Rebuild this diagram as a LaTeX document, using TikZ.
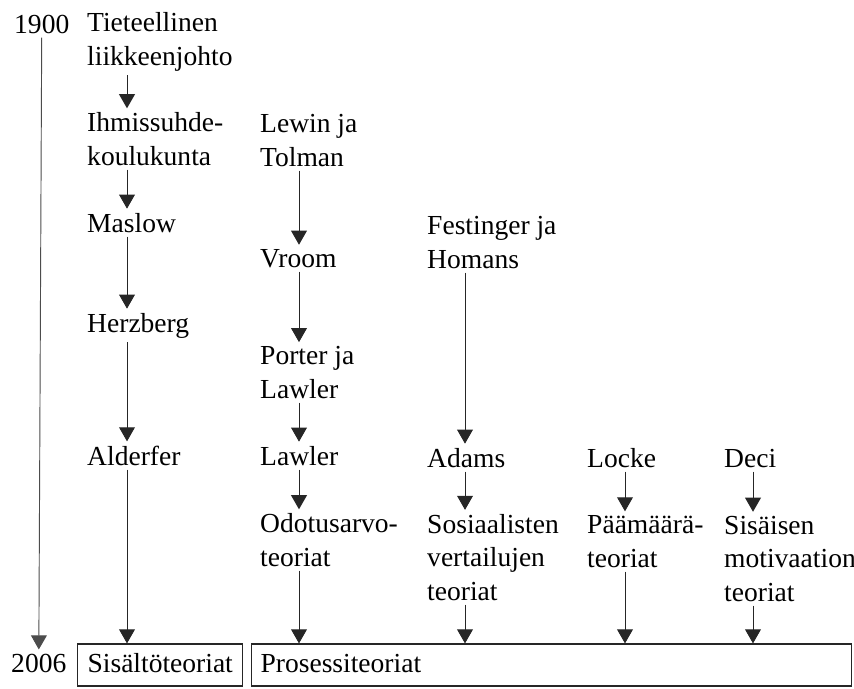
\documentclass[tikz,border=0pt]{standalone}
\usepackage{fontspec}
\setmainfont{Liberation Serif}
\usepackage{tikz}
\usetikzlibrary{arrows.meta}

\tikzset{
  txt/.style={anchor=base west, align=left, inner xsep=0pt, inner ysep=0.12cm,
    font=\fontsize{23.5}{28.5}\selectfont, text=black},
  boxed/.style={txt, draw=black!85, line width=1pt, inner xsep=0.3cm,
    inner ysep=0.24cm, text height=0.6cm, text depth=0.18cm},
  arr/.style={-{Triangle[width=13.5pt,length=12pt]}, line width=0.8pt, black!85},
}

\begin{document}
\begin{tikzpicture}[x=0.03cm,y=-0.03cm]
   \useasboundingbox (0,0) rectangle (854,689);

   % years (base = last line)
   \draw (14,33) node[txt] (y1900) {1900};
   \draw (11,672) node[txt] (y2006) {2006};

   % sisaltoteoriat
   \draw (87,65) node[txt] (tiet) {Tieteellinen\\liikkeenjohto};
   \draw (87,165) node[txt] (ihmi) {Ihmissuhde-\\koulukunta};
   \draw (87,232) node[txt] (maslow) {Maslow};
   \draw (87,332) node[txt] (herz) {Herzberg};
   \draw (87,465) node[txt] (alder) {Alderfer};
   \draw (77,672) node[boxed] (sisalto) {Sisältöteoriat};

   % prosessiteoriat
   \draw (260,166) node[txt] (lewin) {Lewin ja\\Tolman};
   \draw (260,267) node[txt] (vroom) {Vroom};
   \draw (260,398) node[txt] (porter) {Porter ja\\Lawler};
   \draw (260,465) node[txt] (lawler) {Lawler};
   \draw (260,566) node[txt] (odotus) {Odotusarvo-\\teoriat};

   \draw (427,268) node[txt] (festinger) {Festinger ja\\Homans};
   \draw (427,467) node[txt] (adams) {Adams};
   \draw (427,600) node[txt] (sosiaal) {Sosiaalisten\\vertailujen\\teoriat};

   \draw (587,467) node[txt] (locke) {Locke};
   \draw (587,567) node[txt] (paamaara) {Päämäärä-\\teoriat};

   \draw (724,467) node[txt] (deci) {Deci};
   \draw (724,601) node[txt] (sisaisen) {Sisäisen\\motivaation\\teoriat};

   \draw (251,672) node[boxed, text width=17.46cm, inner xsep=0.27cm] (prosessi) {Prosessiteoriat};

   % arrow columns
   \coordinate (c1) at (127,0);
   \coordinate (c2) at (299,0);
   \coordinate (c3) at (465,0);
   \coordinate (c4) at (625,0);
   \coordinate (c5) at (753,0);

   \path[arr, black!70] (y1900) edge (y2006);

   \path[arr] (tiet.south -| c1) edge (ihmi.north -| c1);
   \path[arr] (ihmi.south -| c1) edge (maslow.north -| c1);
   \path[arr] (maslow.south -| c1) edge (herz.north -| c1);
   \path[arr] (herz.south -| c1) edge (alder.north -| c1);
   \path[arr] (alder.south -| c1) edge (sisalto.north -| c1);

   \path[arr] (lewin.south -| c2) edge (vroom.north -| c2);
   \path[arr] (vroom.south -| c2) edge (porter.north -| c2);
   \path[arr] (porter.south -| c2) edge (lawler.north -| c2);
   \path[arr] (lawler.south -| c2) edge (odotus.north -| c2);
   \path[arr] (odotus.south -| c2) edge (prosessi.north -| c2);

   \path[arr] (festinger.south -| c3) edge (adams.north -| c3);
   \path[arr] (adams.south -| c3) edge (sosiaal.north -| c3);
   \path[arr] (sosiaal.south -| c3) edge (prosessi.north -| c3);

   \path[arr] (locke.south -| c4) edge (paamaara.north -| c4);
   \path[arr] (paamaara.south -| c4) edge (prosessi.north -| c4);

   \path[arr] (deci.south -| c5) edge (sisaisen.north -| c5);
   \path[arr] (sisaisen.south -| c5) edge (prosessi.north -| c5);

\end{tikzpicture}
\end{document}
